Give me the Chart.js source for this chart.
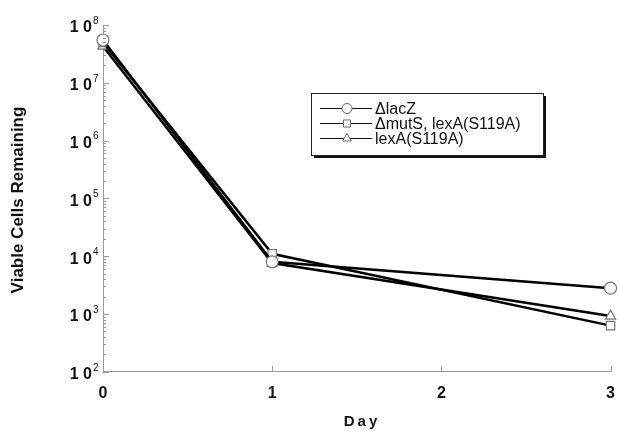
<!DOCTYPE html>
<html>
<head>
<meta charset="utf-8">
<script src="https://cdn.jsdelivr.net/npm/chart.js@4"></script>
<style>
  html, body { margin: 0; padding: 0; background: #fff; }
</style>
</head>
<body>
<canvas id="myChart" width="619" height="432"></canvas>
<script>
var days = [0, 1, 3];
var lacZ = [5.5e7, 8.0e3, 2.8e3];
var mutS = [5.0e7, 1.1e4, 6.3e2];
var lexA = [4.3e7, 7.6e3, 9.2e2];
var seriesNames = ['\u0394lacZ', '\u0394mutS, lexA(S119A)', 'lexA(S119A)'];
var seriesShapes = ['circle', 'rect', 'triangle'];
var yTickExps = [2, 3, 4, 5, 6, 7, 8];
var xTicks = [0, 1, 2, 3];

function pts(vals) {
  return days.map(function (d, i) { return {x: d, y: vals[i]}; });
}

function makeSet(label, vals, shape) {
  return {
    label: label,
    data: pts(vals),
    borderColor: '#000',
    borderWidth: 2.5,
    pointStyle: shape,
    pointRadius: 6,
    pointBackgroundColor: '#fff',
    pointBorderColor: '#777',
    pointBorderWidth: 1.2,
    clip: false
  };
}

// y labels, ticks, titles and legend box
var extras = {
  id: 'extras',
  afterDraw: function (chart) {
    var ctx = chart.ctx;
    var y = chart.scales.y, x = chart.scales.x;
    var left = chart.chartArea.left, bottom = chart.chartArea.bottom;
    ctx.save();
    ctx.strokeStyle = '#999';
    ctx.lineWidth = 1;
    // y ticks (inside)
    for (var e = 2; e <= 8; e++) {
      for (var m = 1; m <= 9; m++) {
        var v = m * Math.pow(10, e);
        if (v > 1e8) break;
        var py = Math.round(y.getPixelForValue(v)) + 0.5;
        var len = m === 1 ? 6 : 3;
        ctx.beginPath();
        ctx.moveTo(left, py);
        ctx.lineTo(left + len, py);
        ctx.stroke();
      }
    }
    // x ticks (inside)
    xTicks.forEach(function (t) {
      var px = Math.round(x.getPixelForValue(t)) + 0.5;
      ctx.beginPath();
      ctx.moveTo(px, bottom);
      ctx.lineTo(px, bottom - 6);
      ctx.stroke();
    });
    // y tick labels
    ctx.fillStyle = '#111';
    ctx.textBaseline = 'middle';
    yTickExps.forEach(function (e) {
      var py = y.getPixelForValue(Math.pow(10, e));
      ctx.font = 'bold 16px Arial, "Liberation Sans", sans-serif';
      ctx.textAlign = 'right';
      ctx.fillText('1 0', 92, py + 3);
      ctx.font = '10px Arial, "Liberation Sans", sans-serif';
      ctx.textAlign = 'left';
      ctx.fillText(String(e), 93, py - 4);
    });
    // y title
    ctx.save();
    ctx.translate(18, 200);
    ctx.rotate(-Math.PI / 2);
    ctx.font = 'bold 17px Arial, "Liberation Sans", sans-serif';
    ctx.textAlign = 'center';
    ctx.fillText('Viable Cells Remaining', 0, 0);
    ctx.restore();
    // x title
    ctx.font = 'bold 15px Arial, "Liberation Sans", sans-serif';
    ctx.letterSpacing = '3px';
    ctx.textAlign = 'center';
    ctx.fillText('Day', 362, 422);
    ctx.letterSpacing = '0px';
    // legend
    var bx = 311, by = 93, bw = 232, bh = 62;
    ctx.fillStyle = '#111';
    ctx.fillRect(bx + 3, by + 3, bw, bh);
    ctx.fillStyle = '#fff';
    ctx.fillRect(bx, by, bw, bh);
    ctx.strokeStyle = '#222';
    ctx.lineWidth = 1;
    ctx.strokeRect(bx + 0.5, by + 0.5, bw, bh);
    chart.data.datasets.forEach(function (ds, i) {
      var ry = 108.5 + i * 15;
      ctx.strokeStyle = '#111';
      ctx.lineWidth = 1.2;
      ctx.beginPath();
      ctx.moveTo(320, ry);
      ctx.lineTo(372, ry);
      ctx.stroke();
      ctx.fillStyle = '#fff';
      ctx.strokeStyle = '#666';
      ctx.lineWidth = 1;
      Chart.helpers.drawPoint(ctx, {pointStyle: ds.pointStyle, radius: 5, borderWidth: 1, rotation: 0}, 347, ry);
      ctx.fillStyle = '#111';
      ctx.font = '16px Arial, "Liberation Sans", sans-serif';
      ctx.textAlign = 'left';
      ctx.textBaseline = 'middle';
      ctx.fillText(ds.label, 375, ry + 1);
    });
    ctx.restore();
  }
};

var ctx = document.getElementById('myChart').getContext('2d');
var myChart = new Chart(ctx, {
  type: 'line',
  data: {
    datasets: [
      makeSet(seriesNames[0], lacZ, seriesShapes[0]),
      makeSet(seriesNames[1], mutS, seriesShapes[1]),
      makeSet(seriesNames[2], lexA, seriesShapes[2])
    ]
  },
  options: {
    responsive: false,
    animation: false,
    layout: { padding: { left: 95, right: 4, top: 25, bottom: 25 } },
    plugins: { legend: { display: false }, tooltip: { enabled: false } },
    scales: {
      x: {
        type: 'linear',
        min: 0,
        max: 3,
        ticks: {
          stepSize: 1,
          color: '#111',
          padding: 4,
          font: { family: 'Arial, "Liberation Sans", sans-serif', size: 16, weight: 'bold' }
        },
        grid: { display: false },
        border: { display: true, color: '#999', width: 1 }
      },
      y: {
        type: 'logarithmic',
        min: 1e2,
        max: 1e8,
        ticks: { display: false },
        grid: { display: false },
        border: { display: true, color: '#999', width: 1 }
      }
    }
  },
  plugins: [extras]
});
</script>
</body>
</html>
